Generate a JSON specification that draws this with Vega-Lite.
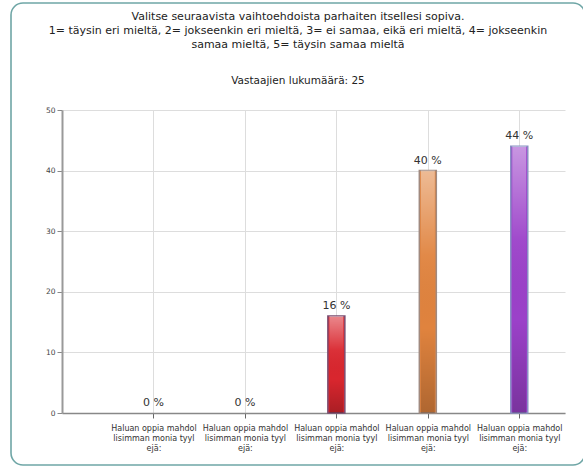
{
  "$schema": "https://vega.github.io/schema/vega-lite/v6.json",
  "width": 574,
  "height": 462,
  "autosize": {"type": "none"},
  "padding": {"left": 11, "top": 3, "right": -2, "bottom": 3},
  "background": "white",
  "title": {
    "text": ["Valitse seuraavista vaihtoehdoista parhaiten itsellesi sopiva.", "1= täysin eri mieltä, 2= jokseenkin eri mieltä, 3= ei samaa, eikä eri mieltä, 4= jokseenkin", "samaa mieltä, 5= täysin samaa mieltä"],
    "subtitle": "Vastaajien lukumäärä: 25",
    "anchor": "middle",
    "frame": "group",
    "dx": 0,
    "offset": -83,
    "font": "DejaVu Sans",
    "fontSize": 11,
    "fontWeight": "normal",
    "lineHeight": 14,
    "color": "#222",
    "subtitleFont": "DejaVu Sans",
    "subtitleFontSize": 10.5,
    "subtitleColor": "#222",
    "subtitlePadding": 26
  },
  "data": {
    "values": [
      {"nro": 1, "vaihtoehto": "Haluan oppia mahdollisimman monia tyylejä:", "prosentti": 0},
      {"nro": 2, "vaihtoehto": "Haluan oppia mahdollisimman monia tyylejä:", "prosentti": 0},
      {"nro": 3, "vaihtoehto": "Haluan oppia mahdollisimman monia tyylejä:", "prosentti": 16},
      {"nro": 4, "vaihtoehto": "Haluan oppia mahdollisimman monia tyylejä:", "prosentti": 40},
      {"nro": 5, "vaihtoehto": "Haluan oppia mahdollisimman monia tyylejä:", "prosentti": 44}
    ]
  },
  "encoding": {
    "y": {
      "field": "prosentti",
      "type": "quantitative",
      "scale": {"domain": [0, 50], "nice": false, "padding": 0, "range": [410, 107]},
      "axis": {
        "title": null,
        "offset": -51,
        "values": [0, 10, 20, 30, 40, 50],
        "labelFont": "DejaVu Sans",
        "labelFontSize": 7.5,
        "labelColor": "#444",
        "labelPadding": 2,
        "tickSize": 5,
        "tickColor": "#888",
        "domainColor": "#999",
        "domainWidth": 2,
        "grid": true,
        "gridColor": "#dddddd"
      }
    }
  },
  "layer": [
    {
      "transform": [{"filter": "datum.prosentti > 0"}],
      "mark": {"type": "bar", "size": 17, "strokeWidth": 1.5},
      "encoding": {
        "x": {
          "field": "nro",
          "type": "quantitative",
          "scale": {"domain": [0, 5.5], "nice": false, "zero": false, "padding": 0, "range": [51, 554]},
          "axis": {
            "title": null,
            "orient": "top",
            "values": [1, 2, 3, 4, 5],
            "labels": false,
            "ticks": false,
            "domain": false,
            "grid": true,
            "gridColor": "#dddddd"
          }
        },
        "fill": {
          "field": "nro",
          "type": "nominal",
          "scale": {"domain": [1, 2, 3, 4, 5], "range": ["#4a7fc9", "#4aa84a", "#d9262e", "#e0833e", "#9b41c9"]},
          "legend": null
        },
        "stroke": {
          "field": "nro",
          "type": "nominal",
          "scale": {"domain": [1, 2, 3, 4, 5], "range": ["#5a6a9a", "#5a8a6a", "#7a4e72", "#a08a80", "#8a8fc4"]},
          "legend": null
        }
      }
    },
    {
      "transform": [{"filter": "datum.prosentti > 0"}],
      "mark": {
        "type": "bar",
        "size": 14,
        "fill": {
          "gradient": "linear",
          "x1": 0, "y1": 0, "x2": 0, "y2": 1,
          "stops": [
            {"offset": 0, "color": "rgba(255,255,255,0.45)"},
            {"offset": 0.35, "color": "rgba(255,255,255,0.05)"},
            {"offset": 0.65, "color": "rgba(0,0,0,0)"},
            {"offset": 1, "color": "rgba(0,0,0,0.22)"}
          ]
        }
      },
      "encoding": {
        "x": {"field": "nro", "type": "quantitative", "axis": null}
      }
    },
    {
      "transform": [{"calculate": "datum.prosentti + ' %'", "as": "teksti"}],
      "mark": {"type": "text", "baseline": "bottom", "dy": -5, "font": "DejaVu Sans", "fontSize": 11, "color": "#333"},
      "encoding": {
        "x": {
          "field": "nro",
          "type": "quantitative",
          "axis": {
            "title": null,
            "orient": "bottom",
            "offset": -52,
            "values": [1, 2, 3, 4, 5],
            "labelExpr": "['Haluan oppia mahdol', 'lisimman monia tyyl', 'ejä:']",
            "labelFont": "DejaVu Sans",
            "labelFontSize": 8,
            "labelLineHeight": 10,
            "labelColor": "#333",
            "labelPadding": 6,
            "labelAngle": 0,
            "tickSize": 5,
            "tickColor": "#666",
            "domainColor": "#888",
            "domainWidth": 1.5,
            "grid": false,
            "labelOverlap": false,
            "labelFlush": false
          }
        },
        "text": {"field": "teksti"}
      }
    }
  ],
  "resolve": {"axis": {"x": "independent"}},
  "config": {"view": {"stroke": "#6fa6a6", "strokeWidth": 1.6, "cornerRadius": 12, "fill": "white"}}
}
